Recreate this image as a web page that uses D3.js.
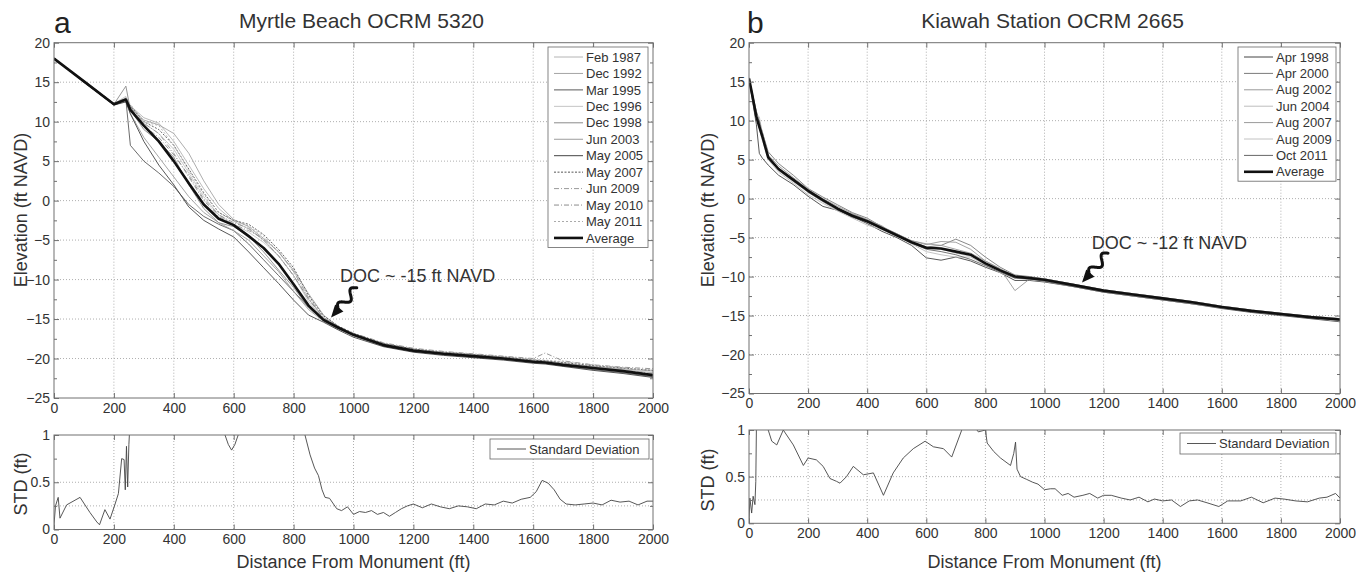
<!DOCTYPE html>
<html>
<head>
<meta charset="utf-8">
<title>Beach profiles and depth of closure</title>
<script src="https://d3js.org/d3.v7.min.js"></script>
<style>
    body { margin: 0; background: #fff; }
    svg { display: block; font-family: "Liberation Sans", Arial, sans-serif; }
    .grid line { stroke: #9a9a9a; stroke-width: 0.8; stroke-dasharray: 1,2; }
    .frame { fill: none; stroke: #707070; stroke-width: 1; }
    .axis path { display: none; }
    .axis line { stroke: #707070; }
    .axis text { font-size: 14px; fill: #333; font-family: "Liberation Sans", Arial, sans-serif; }
    .ax-title { font-size: 18px; fill: #333; }
    .panel-title { font-size: 21px; fill: #333; }
    .panel-letter { font-size: 30px; fill: #222; }
    .legend text { font-size: 13px; fill: #333; }
    .doc { font-size: 18px; fill: #333; }
</style>
</head>
<body>
<svg id="chart" width="1356" height="573"></svg>
<script>
// ---- ticks ----
const xTicks = [0, 200, 400, 600, 800, 1000, 1200, 1400, 1600, 1800, 2000];
const elevTicks = [-25, -20, -15, -10, -5, 0, 5, 10, 15, 20];
const elevMinor = [-22.5, -17.5, -12.5, -7.5, -2.5, 2.5, 7.5, 12.5, 17.5];
const stdTicks = [0, 0.5, 1];
const stdMinor = [0.25, 0.75];
const stdGrid = [0.25, 0.5];

// ---- panel a: Myrtle Beach OCRM 5320 ----
const surveysA = ["Feb 1987", "Dec 1992", "Mar 1995", "Dec 1996", "Dec 1998", "Jun 2003",
                  "May 2005", "May 2007", "Jun 2009", "May 2010", "May 2011"];
const distA = [0, 100, 200, 240, 255, 300, 350, 400, 450, 500, 550, 600, 650, 700, 750, 800,
               850, 900, 950, 1000, 1100, 1200, 1300, 1400, 1500, 1600, 1640, 1700, 1800, 1900, 2000];
const feb1987 = [18.0, 15.2, 12.3, 13.0, 12.0, 10.5, 9.8, 7.5, 4.5, 1.5, -1.0, -2.6, -3.6, -5.0, -7.0, -9.5,
                 -12.5, -14.8, -16.0, -16.9, -18.2, -18.9, -19.3, -19.6, -19.9, -20.3, -20.4, -20.7, -21.0, -21.4, -21.8];
const dec1992 = [18.1, 15.0, 12.1, 12.6, 11.8, 10.2, 9.6, 8.5, 6.0, 2.5, -0.5, -2.4, -3.3, -4.8, -6.5, -8.8,
                 -11.8, -14.5, -16.0, -16.9, -18.1, -18.8, -19.2, -19.5, -19.8, -20.2, -20.3, -20.6, -21.0, -21.3, -21.6];
const mar1995 = [17.9, 15.1, 12.2, 12.8, 7.0, 5.0, 3.5, 1.8, -0.5, -2.0, -3.0, -3.8, -5.5, -7.5, -9.5, -11.5,
                 -13.5, -15.2, -16.2, -17.1, -18.4, -19.1, -19.5, -19.8, -20.1, -20.5, -20.6, -20.9, -21.4, -21.8, -22.3];
const dec1996 = [18.0, 15.1, 12.3, 13.2, 12.0, 9.8, 8.5, 6.5, 3.5, 0.5, -1.8, -3.0, -4.0, -5.3, -7.0, -9.5,
                 -12.8, -15.0, -16.1, -17.0, -18.3, -19.0, -19.4, -19.7, -20.0, -20.4, -20.5, -20.8, -21.2, -21.6, -22.0];
const dec1998 = [18.0, 15.0, 12.2, 14.5, 11.5, 9.0, 7.5, 5.5, 2.0, -1.0, -2.8, -3.3, -4.5, -6.5, -8.8, -11.0,
                 -13.6, -15.2, -16.2, -17.0, -18.3, -19.0, -19.4, -19.7, -20.0, -20.5, -20.6, -20.9, -21.3, -21.7, -22.2];
const jun2003 = [18.1, 15.1, 12.2, 12.7, 11.0, 8.0, 5.5, 3.0, 0.5, -1.5, -2.8, -3.8, -5.0, -7.0, -9.0, -11.5,
                 -13.8, -15.3, -16.3, -17.1, -18.4, -19.1, -19.5, -19.8, -20.1, -20.5, -20.6, -20.9, -21.3, -21.7, -22.2];
const may2005 = [18.0, 15.0, 12.1, 12.5, 11.0, 7.5, 4.5, 2.0, -0.8, -2.5, -3.6, -4.6, -6.5, -8.5, -10.5, -12.6,
                 -14.5, -15.4, -16.4, -17.3, -18.5, -19.2, -19.6, -19.9, -20.2, -20.6, -20.7, -21.0, -21.5, -21.9, -22.4];
const may2007 = [18.0, 15.1, 12.3, 12.9, 12.0, 10.0, 9.0, 7.0, 4.0, 1.0, -1.5, -2.5, -3.0, -4.3, -6.2, -8.5,
                 -12.0, -14.6, -15.9, -16.8, -18.1, -18.8, -19.2, -19.5, -19.8, -20.2, -20.3, -20.5, -20.9, -21.2, -21.5];
const jun2009 = [18.0, 15.1, 12.2, 12.8, 11.8, 9.8, 8.5, 6.0, 3.0, 0.0, -2.0, -3.0, -3.8, -4.8, -6.5, -9.0,
                 -12.3, -14.8, -16.0, -16.9, -18.2, -18.9, -19.3, -19.6, -19.9, -20.3, -20.4, -20.7, -21.1, -21.5, -21.9];
const may2010 = [18.0, 15.2, 12.3, 13.0, 11.8, 9.5, 8.0, 5.8, 3.2, 0.2, -1.8, -2.8, -3.5, -5.0, -7.0, -9.5,
                 -12.5, -14.9, -16.0, -16.8, -18.0, -18.7, -19.1, -19.4, -19.7, -20.0, -19.3, -20.3, -20.8, -21.1, -21.3];
const may2011 = [17.9, 15.1, 12.2, 12.8, 12.2, 10.0, 9.5, 7.0, 3.8, 0.8, -1.5, -2.6, -3.2, -4.5, -6.5, -9.0,
                 -12.2, -14.9, -16.1, -16.9, -18.2, -18.9, -19.2, -19.5, -19.8, -20.1, -20.2, -20.4, -20.8, -21.2, -21.5];
const averageA = [18.0, 15.1, 12.2, 12.8, 11.5, 9.5, 7.5, 5.0, 2.2, -0.5, -2.3, -3.1, -4.5, -6.0, -8.0, -10.6,
                  -13.3, -15.1, -16.1, -17.0, -18.3, -19.0, -19.4, -19.7, -20.0, -20.4, -20.5, -20.8, -21.2, -21.6, -22.1];
const stdDistA = [0, 5, 14, 20, 42, 87, 120, 143, 152, 170, 187, 204, 215, 226, 234, 238, 242, 246, 250, 255,
                  262, 560, 571, 582, 593, 604, 615, 625, 830, 838, 855, 870, 883, 895, 905, 920, 944, 960, 980, 1000,
                  1020, 1040, 1060, 1080, 1100, 1120, 1140, 1160, 1180, 1200, 1230, 1260, 1290, 1320, 1350, 1380, 1410, 1440, 1470, 1500,
                  1530, 1560, 1590, 1610, 1630, 1650, 1670, 1690, 1710, 1740, 1770, 1800, 1830, 1860, 1890, 1920, 1950, 1980, 2000];
const stdA = [0.05, 0.25, 0.34, 0.12, 0.26, 0.34, 0.18, 0.08, 0.05, 0.21, 0.11, 0.27, 0.38, 0.75, 0.74, 0.42, 0.88, 0.45, 0.9, 1.2,
              1.5, 1.5, 1.0, 0.9, 0.84, 0.9, 1.0, 1.3, 1.3, 1.0, 0.79, 0.65, 0.57, 0.42, 0.34, 0.33, 0.22, 0.2, 0.24, 0.16,
              0.19, 0.18, 0.2, 0.16, 0.18, 0.14, 0.18, 0.22, 0.25, 0.27, 0.23, 0.27, 0.24, 0.22, 0.25, 0.24, 0.22, 0.27, 0.26, 0.3,
              0.28, 0.32, 0.34, 0.4, 0.52, 0.49, 0.42, 0.32, 0.27, 0.26, 0.27, 0.28, 0.26, 0.31, 0.29, 0.3, 0.26, 0.3, 0.3];

// ---- panel b: Kiawah Station OCRM 2665 ----
const surveysB = ["Apr 1998", "Apr 2000", "Aug 2002", "Jun 2004", "Aug 2007", "Aug 2009", "Oct 2011"];
const distB = [0, 10, 25, 35, 45, 65, 100, 150, 200, 250, 300, 350, 400, 450, 500, 550, 600, 650, 700, 750,
               800, 850, 900, 950, 1000, 1100, 1200, 1300, 1400, 1500, 1600, 1700, 1800, 1900, 2000];
const apr1998 = [15.2, 13.0, 9.5, 5.8, 5.2, 4.3, 3.0, 1.8, 0.3, -1.0, -1.5, -2.3, -3.2, -4.2, -5.0, -6.0, -7.6, -7.9, -7.5, -8.0,
                 -8.8, -9.5, -10.5, -10.5, -10.7, -11.3, -12.0, -12.5, -13.0, -13.5, -14.1, -14.6, -15.0, -15.4, -15.8];
const apr2000 = [15.5, 13.6, 11.2, 10.0, 8.5, 6.0, 4.5, 3.0, 1.3, 0.2, -0.8, -1.8, -2.5, -3.6, -4.5, -5.5, -6.2, -6.0, -5.2, -6.0,
                 -7.5, -8.8, -9.8, -10.0, -10.3, -11.0, -11.7, -12.2, -12.7, -13.2, -13.8, -14.3, -14.7, -15.1, -15.4];
const aug2002 = [15.4, 13.8, 11.0, 9.8, 8.2, 5.5, 3.6, 2.2, 0.8, -0.4, -1.5, -2.0, -2.7, -3.5, -4.8, -5.4, -5.8, -6.0, -6.5, -7.0,
                 -8.0, -9.0, -11.8, -10.3, -10.5, -11.2, -11.9, -12.4, -12.9, -13.4, -14.0, -14.5, -14.9, -15.3, -15.6];
const jun2004 = [15.3, 13.4, 10.2, 9.0, 7.5, 5.0, 3.4, 2.0, 0.5, -0.6, -1.6, -2.5, -3.4, -4.0, -4.8, -5.8, -6.8, -7.2, -7.5, -7.5,
                 -8.5, -9.5, -10.2, -10.4, -10.6, -11.3, -12.0, -12.5, -13.0, -13.5, -14.0, -14.5, -14.9, -15.3, -15.7];
const aug2007 = [15.4, 13.5, 10.8, 9.5, 8.6, 5.6, 4.2, 2.7, 1.2, 0.0, -1.0, -1.9, -2.7, -3.7, -4.5, -5.4, -5.9, -5.5, -5.6, -6.5,
                 -8.0, -9.0, -9.9, -10.1, -10.3, -11.0, -11.7, -12.2, -12.7, -13.2, -13.8, -14.3, -14.7, -15.1, -15.4];
const aug2009 = [15.5, 13.7, 10.7, 10.5, 8.4, 5.4, 3.9, 2.6, 1.0, -0.1, -1.2, -2.2, -3.0, -3.9, -4.6, -5.5, -6.2, -6.5, -7.0, -7.4,
                 -8.2, -9.1, -9.8, -10.1, -10.3, -11.0, -11.7, -12.2, -12.7, -13.2, -13.8, -14.3, -14.8, -15.1, -15.4];
const oct2011 = [15.4, 13.4, 10.4, 10.0, 8.0, 5.2, 3.8, 2.5, 1.1, -0.1, -1.4, -2.4, -3.0, -3.8, -4.7, -5.7, -6.5, -6.8, -7.2, -7.8,
                 -8.6, -9.4, -10.2, -10.3, -10.6, -11.3, -12.0, -12.5, -13.0, -13.5, -14.0, -14.5, -14.9, -15.3, -15.6];
const averageB = [15.4, 13.5, 10.5, 9.2, 8.0, 5.3, 3.8, 2.4, 1.0, -0.2, -1.3, -2.2, -2.9, -3.8, -4.7, -5.6, -6.3, -6.4, -6.8, -7.2,
                  -8.3, -9.2, -10.0, -10.2, -10.4, -11.1, -11.8, -12.3, -12.8, -13.3, -13.9, -14.4, -14.8, -15.2, -15.5];
const stdDistB = [0, 3, 9, 14, 20, 23, 25, 28, 60, 65, 77, 94, 116, 150, 184, 200, 228, 251, 274, 296,
                  308, 330, 353, 387, 421, 455, 488, 522, 556, 596, 624, 658, 686, 720, 740, 760, 776, 800, 806, 828,
                  851, 885, 896, 902, 907, 919, 940, 960, 978, 1000, 1020, 1036, 1060, 1080, 1100, 1130, 1153, 1180, 1200, 1226,
                  1260, 1290, 1320, 1350, 1372, 1400, 1430, 1460, 1490, 1518, 1550, 1590, 1620, 1664, 1700, 1740, 1780, 1810, 1850, 1890,
                  1930, 1956, 1985, 2000];
const stdB = [0.02, 0.27, 0.11, 0.29, 0.2, 0.45, 1.0, 1.3, 1.3, 1.0, 0.88, 0.84, 1.0, 0.84, 0.62, 0.7, 0.68, 0.61, 0.48, 0.45,
              0.43, 0.5, 0.61, 0.52, 0.54, 0.3, 0.54, 0.7, 0.8, 0.88, 0.82, 0.8, 0.71, 1.0, 1.1, 1.05, 0.98, 1.0, 0.86, 0.77,
              0.7, 0.62, 0.75, 0.87, 0.58, 0.5, 0.47, 0.44, 0.42, 0.36, 0.37, 0.37, 0.3, 0.32, 0.28, 0.3, 0.32, 0.27, 0.3, 0.3,
              0.27, 0.25, 0.28, 0.23, 0.26, 0.24, 0.25, 0.18, 0.24, 0.25, 0.22, 0.18, 0.24, 0.24, 0.28, 0.22, 0.27, 0.26, 0.24, 0.23,
              0.27, 0.28, 0.32, 0.27];

// line looks (legend order)
const styleA = [
    {color: "#b4b4b4", dash: null}, {color: "#a4a4a4", dash: null}, {color: "#5a5a5a", dash: null},
    {color: "#c4c4c4", dash: null}, {color: "#8a8a8a", dash: null}, {color: "#9c9c9c", dash: null},
    {color: "#444", dash: null}, {color: "#555", dash: "2,1.5"}, {color: "#9a9a9a", dash: "5,2,1,2"},
    {color: "#8c8c8c", dash: "5,2,1,2"}, {color: "#aaa", dash: "2,2"}
];
const styleB = [
    {color: "#444", dash: null}, {color: "#7a7a7a", dash: null}, {color: "#999", dash: null},
    {color: "#bdbdbd", dash: null}, {color: "#9a9a9a", dash: null}, {color: "#c2c2c2", dash: null},
    {color: "#666", dash: null}
];

const svg = d3.select("#chart");
svg.append("rect").attr("width", 1356).attr("height", 573).attr("fill", "#fff");

const fmtInt = d3.format("d");

// build one set of axes (grid, ticks, labels) and return scales + layer for lines
function makeAxes(id, box, yDomain, yTicks, yMinor, yGrid, yFmt) {
    const x = d3.scaleLinear().domain([0, 2000]).range([box.left, box.right]);
    const y = d3.scaleLinear().domain(yDomain).range([box.bottom, box.top]);
    const g = svg.append("g");

    g.append("clipPath").attr("id", id)
        .append("rect")
        .attr("x", box.left).attr("y", box.top)
        .attr("width", box.right - box.left).attr("height", box.bottom - box.top);

    const grid = g.append("g").attr("class", "grid");
    grid.selectAll(".gx")
        .data(xTicks.filter(v => v > 0 && v < 2000))
        .join("line")
        .attr("x1", d => x(d)).attr("x2", d => x(d))
        .attr("y1", box.top).attr("y2", box.bottom);
    grid.selectAll(".gy")
        .data(yGrid)
        .join("line")
        .attr("x1", box.left).attr("x2", box.right)
        .attr("y1", d => y(d)).attr("y2", d => y(d));

    const plot = g.append("g").attr("clip-path", `url(#${id})`);

    // axes drawn after the lines
    function finish() {
        g.append("rect").attr("class", "frame")
            .attr("x", box.left).attr("y", box.top)
            .attr("width", box.right - box.left).attr("height", box.bottom - box.top);

        g.append("g").attr("class", "axis")
            .attr("transform", `translate(0,${box.bottom})`)
            .call(d3.axisBottom(x).tickValues(xTicks).tickSize(-5).tickPadding(5).tickFormat(fmtInt));
        g.append("g").attr("class", "axis")
            .attr("transform", `translate(0,${box.top})`)
            .call(d3.axisTop(x).tickValues(xTicks).tickSize(-5).tickFormat(""));
        g.append("g").attr("class", "axis")
            .attr("transform", `translate(${box.left},0)`)
            .call(d3.axisLeft(y).tickValues(yTicks).tickSize(-5).tickPadding(4).tickFormat(yFmt));
        g.append("g").attr("class", "axis")
            .attr("transform", `translate(${box.right},0)`)
            .call(d3.axisRight(y).tickValues(yTicks).tickSize(-5).tickFormat(""));
        g.append("g").attr("class", "axis")
            .attr("transform", `translate(${box.left},0)`)
            .call(d3.axisLeft(y).tickValues(yMinor).tickSize(-3).tickFormat(""));
        g.append("g").attr("class", "axis")
            .attr("transform", `translate(${box.right},0)`)
            .call(d3.axisRight(y).tickValues(yMinor).tickSize(-3).tickFormat(""));
        g.selectAll(".axis").attr("font-size", null).attr("font-family", null);
    }
    return {x, y, plot, finish};
}

function drawLine(ax, xs, ys, color, width, dash) {
    const line = d3.line().x(d => ax.x(d[0])).y(d => ax.y(d[1]));
    ax.plot.append("path")
        .datum(d3.zip(xs, ys))
        .attr("fill", "none")
        .attr("stroke", color)
        .attr("stroke-width", width)
        .attr("stroke-dasharray", dash)
        .attr("stroke-linejoin", "round")
        .attr("d", line);
}

function legend(bx, by, bw, rowH, names, styles) {
    const lg = svg.append("g").attr("class", "legend");
    const rows = names.map((n, i) => ({name: n, color: styles[i].color, dash: styles[i].dash, w: styles[i].w || 1}));
    lg.append("rect")
        .attr("x", bx).attr("y", by)
        .attr("width", bw).attr("height", rows.length * rowH + 3)
        .attr("fill", "#fff").attr("stroke", "#666").attr("stroke-width", 0.8);
    const r = lg.selectAll(".row").data(rows).join("g")
        .attr("transform", (d, i) => `translate(${bx},${by + 10 + i * rowH})`);
    r.append("line")
        .attr("x1", 6).attr("x2", 35)
        .attr("stroke", d => d.color).attr("stroke-width", d => d.w)
        .attr("stroke-dasharray", d => d.dash);
    r.append("text")
        .attr("x", 38).attr("dy", "0.36em")
        .text(d => d.name);
}

function stdLegend(bx, by, bw, bh) {
    const lg = svg.append("g").attr("class", "legend");
    lg.append("rect").attr("x", bx).attr("y", by).attr("width", bw).attr("height", bh)
        .attr("fill", "#fff").attr("stroke", "#666").attr("stroke-width", 0.8);
    lg.append("line").attr("x1", bx + 7).attr("x2", bx + 36)
        .attr("y1", by + bh / 2).attr("y2", by + bh / 2)
        .attr("stroke", "#444").attr("stroke-width", 0.9);
    lg.append("text").attr("x", bx + 39).attr("y", by + bh / 2).attr("dy", "0.36em")
        .text("Standard Deviation");
}

// squiggly arrow between two data points
function squiggle(ax, from, to, label, labelAt) {
    const sx = ax.x(from[0]), sy = ax.y(from[1]);
    const tx = ax.x(to[0]), ty = ax.y(to[1]);
    const L = Math.hypot(tx - sx, ty - sy);
    const ux = (tx - sx) / L, uy = (ty - sy) / L;
    const nx = -uy, ny = ux;
    const pts = [];
    for (let i = 0; i <= 40; i++) {
        const t = i / 40 * 0.72;
        const off = 4.2 * Math.sin(t / 0.72 * Math.PI * 3);
        pts.push([sx + ux * t * L + nx * off, sy + uy * t * L + ny * off]);
    }
    const g = svg.append("g");
    g.append("path").attr("d", d3.line()(pts))
        .attr("fill", "none").attr("stroke", "#111").attr("stroke-width", 3).attr("stroke-linecap", "round");
    const bx = sx + ux * 0.68 * L, by = sy + uy * 0.68 * L;
    g.append("path")
        .attr("d", d3.line()([[tx, ty], [bx + nx * 5.5, by + ny * 5.5], [bx - nx * 5.5, by - ny * 5.5]]) + "Z")
        .attr("fill", "#111");
    svg.append("text").attr("class", "doc")
        .attr("x", ax.x(labelAt[0])).attr("y", ax.y(labelAt[1]))
        .text(label);
}

function axisTitles(cx, elevY, stdY, xLabelY, titleX, title, letter, letterX) {
    svg.append("text").attr("class", "ax-title")
        .attr("transform", `translate(${cx},${elevY}) rotate(-90)`)
        .attr("text-anchor", "middle").attr("dy", "0.35em")
        .text("Elevation (ft NAVD)");
    svg.append("text").attr("class", "ax-title")
        .attr("transform", `translate(${cx},${stdY}) rotate(-90)`)
        .attr("text-anchor", "middle").attr("dy", "0.35em")
        .text("STD (ft)");
    svg.append("text").attr("class", "ax-title")
        .attr("x", titleX).attr("y", xLabelY).attr("text-anchor", "middle")
        .text("Distance From Monument (ft)");
    svg.append("text").attr("class", "panel-title")
        .attr("x", titleX + 8).attr("y", 28).attr("text-anchor", "middle")
        .text(title);
    svg.append("text").attr("class", "panel-letter")
        .attr("x", letterX).attr("y", 33)
        .text(letter);
}

const fmtStd = d => d === 0.5 ? "0.5" : String(d);

// ---- panel a ----
const mainA = makeAxes("clipA", {left: 54, right: 653, top: 42.7, bottom: 398},
    [-25, 20], elevTicks, elevMinor, elevTicks.slice(1, -1), fmtInt);
const seriesA = [feb1987, dec1992, mar1995, dec1996, dec1998, jun2003, may2005, may2007, jun2009, may2010, may2011];
seriesA.forEach((s, i) => drawLine(mainA, distA, s, styleA[i].color, 0.9, styleA[i].dash));
drawLine(mainA, distA, averageA, "#111", 2.6, null);
mainA.finish();

const stdAx = makeAxes("clipSA", {left: 54, right: 653, top: 435, bottom: 529.5},
    [0, 1], stdTicks, stdMinor, stdGrid, fmtStd);
drawLine(stdAx, stdDistA, stdA, "#444", 0.9, null);
stdAx.finish();

legend(548, 47, 100, 16.45, surveysA.concat(["Average"]),
    styleA.concat([{color: "#111", dash: null, w: 2.6}]));
stdLegend(490, 439, 159, 20);
squiggle(mainA, [1011, -11.05], [925, -14.8], "DOC ~ -15 ft NAVD", [955, -10.3]);
axisTitles(21, 210, 484, 568, 353.5, "Myrtle Beach OCRM 5320", "a", 54);

// ---- panel b ----
const mainB = makeAxes("clipB", {left: 749, right: 1340, top: 42.7, bottom: 393.5},
    [-25, 20], elevTicks, elevMinor, elevTicks.slice(1, -1), fmtInt);
const seriesB = [apr1998, apr2000, aug2002, jun2004, aug2007, aug2009, oct2011];
seriesB.forEach((s, i) => drawLine(mainB, distB, s, styleB[i].color, 0.9, styleB[i].dash));
drawLine(mainB, distB, averageB, "#111", 2.6, null);
mainB.finish();

const stdBx = makeAxes("clipSB", {left: 749, right: 1340, top: 430, bottom: 523.3},
    [0, 1], stdTicks, stdMinor, stdGrid, fmtStd);
drawLine(stdBx, stdDistB, stdB, "#444", 0.9, null);
stdBx.finish();

legend(1238, 47, 98, 16.4, surveysB.concat(["Average"]),
    styleB.concat([{color: "#111", dash: null, w: 2.6}]));
stdLegend(1180, 433, 156, 21);
squiggle(mainB, [1215, -7.0], [1127, -10.75], "DOC ~ -12 ft NAVD", [1160, -6.4]);
axisTitles(708, 210, 480, 568, 1044.5, "Kiawah Station OCRM 2665", "b", 747);
</script>
</body>
</html>
